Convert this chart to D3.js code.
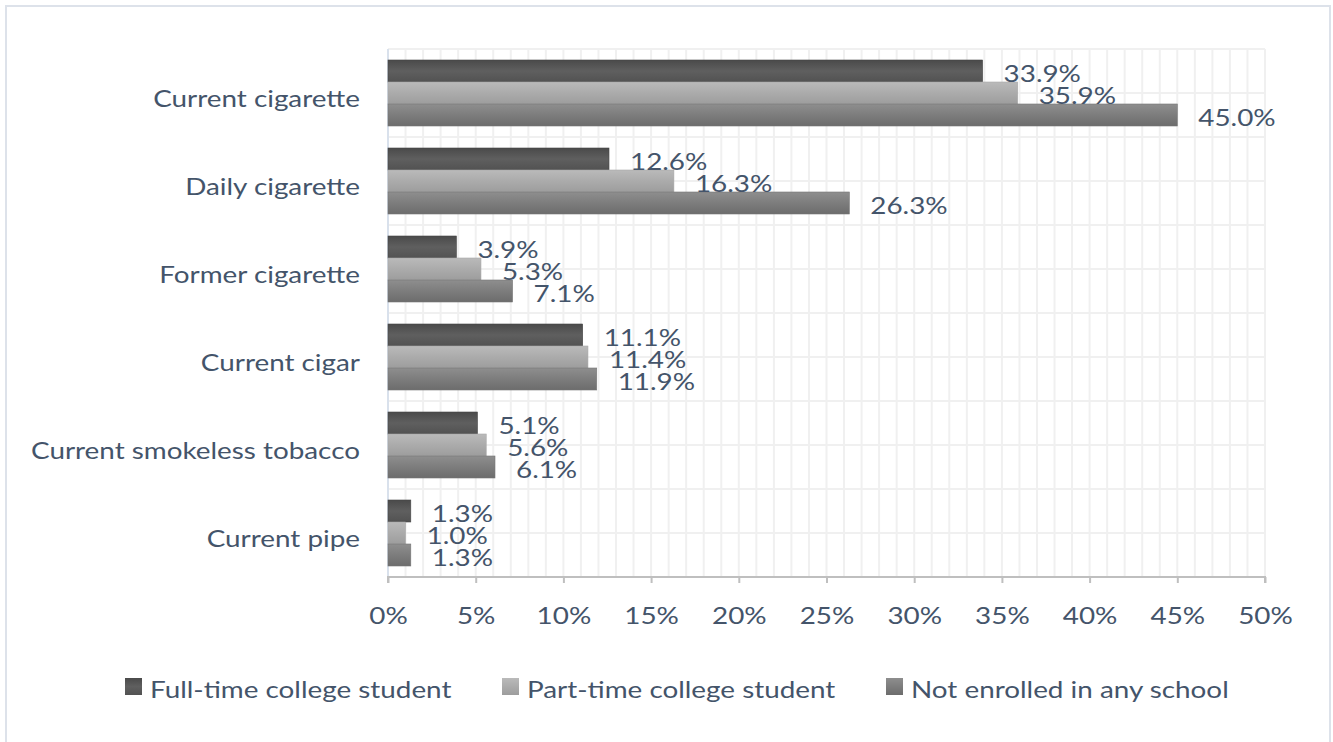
<!DOCTYPE html>
<html>
<head>
<meta charset="utf-8">
<script src="https://cdn.jsdelivr.net/npm/d3@7"></script>
<style>
  html, body { margin: 0; padding: 0; background: #fff; }
  svg { display: block; }
</style>
</head>
<body>
<script>
const categories = ["Current cigarette", "Daily cigarette", "Former cigarette", "Current cigar", "Current smokeless tobacco", "Current pipe"];
const seriesNames = ["Full-time college student", "Part-time college student", "Not enrolled in any school"];
const fullTime = [33.9, 12.6, 3.9, 11.1, 5.1, 1.3];
const partTime = [35.9, 16.3, 5.3, 11.4, 5.6, 1.0];
const notEnrolled = [45.0, 26.3, 7.1, 11.9, 6.1, 1.3];
const xTicks = [0, 5, 10, 15, 20, 25, 30, 35, 40, 45, 50];

const seriesValues = [fullTime, partTime, notEnrolled];
const W = 1333, H = 742;
const margin = { left: 388, right: 68, top: 49, bottom: 165 };
const textColor = "#44546a";
const font = "Lato, 'Open Sans', sans-serif";
const fs = 24;
const sx = 1.16; // horizontal stretch of the original's text

const svg = d3.select("body").append("svg").attr("width", W).attr("height", H);

// gradients
const defs = svg.append("defs");
const gradStops = [
  [["0%", "#4a4a4a"], ["50%", "#5f5f5f"], ["100%", "#525252"]],
  [["0%", "#bababa"], ["50%", "#ababab"], ["100%", "#9d9d9d"]],
  [["0%", "#8e8e8e"], ["50%", "#7d7d7d"], ["100%", "#6c6c6c"]]
];
gradStops.forEach((stops, i) => {
  const g = defs.append("linearGradient").attr("id", "g" + i)
    .attr("x1", 0).attr("y1", 0).attr("x2", 0).attr("y2", 1);
  stops.forEach(s => g.append("stop").attr("offset", s[0]).attr("stop-color", s[1]));
});

// outer border
svg.append("rect").attr("x", 6).attr("y", 6).attr("width", W - 9).attr("height", H)
  .attr("fill", "#fff").attr("stroke", "#dde2ea").attr("stroke-width", 2);

const x = d3.scaleLinear().domain([0, 50]).range([margin.left, W - margin.right]);
const y0 = d3.scaleBand().domain(categories).range([margin.top, H - margin.bottom]).paddingInner(0.25).paddingOuter(0.125);
const y1 = d3.scaleBand().domain(d3.range(3)).range([0, y0.bandwidth()]);
const plotTop = margin.top, plotBottom = H - margin.bottom;

// vertical gridlines every 1%
const grid = svg.append("g");
grid.selectAll("line.v").data(d3.range(1, 51)).enter().append("line")
  .attr("x1", d => x(d)).attr("x2", d => x(d))
  .attr("y1", plotTop).attr("y2", plotBottom)
  .attr("stroke", "#f0f0f0").attr("stroke-width", 2);
// horizontal gridlines every half category
const step = (plotBottom - plotTop) / (categories.length * 2);
grid.selectAll("line.h").data(d3.range(0, categories.length * 2)).enter().append("line")
  .attr("x1", x(0)).attr("x2", x(50))
  .attr("y1", d => plotTop + d * step).attr("y2", d => plotTop + d * step)
  .attr("stroke", "#f0f0f0").attr("stroke-width", 2);

// left axis line
svg.append("line").attr("x1", x(0)).attr("x2", x(0)).attr("y1", plotTop).attr("y2", plotBottom)
  .attr("stroke", "#d9e1ec").attr("stroke-width", 2);

// bars
const groups = svg.append("g").selectAll("g").data(categories).enter().append("g")
  .attr("transform", d => `translate(0,${y0(d)})`);
groups.selectAll("rect").data((d, ci) => seriesValues.map((s, si) => ({ si, v: s[ci] })))
  .enter().append("rect")
  .attr("x", x(0))
  .attr("y", d => y1(d.si))
  .attr("width", d => x(d.v) - x(0))
  .attr("height", y1.bandwidth())
  .attr("fill", d => `url(#g${d.si})`)
  .attr("stroke", d => ["#474747", "#a8a8a8", "#757575"][d.si]).attr("stroke-width", 0.6);

// value labels
groups.selectAll("text").data((d, ci) => seriesValues.map((s, si) => ({ si, v: s[ci] })))
  .enter().append("text")
  .attr("transform", d => `translate(${x(d.v) + 21},${y1(d.si) + y1.bandwidth() / 2 + 2}) scale(${sx},1)`)
  .attr("dy", "0.36em")
  .attr("fill", textColor).attr("font-family", font).attr("font-size", fs)
  .text(d => d.v.toFixed(1) + "%");

// category labels
svg.append("g").selectAll("text").data(categories).enter().append("text")
  .attr("transform", d => `translate(360,${y0(d) + y0.bandwidth() / 2 + 5}) scale(${sx},1)`)
  .attr("dy", "0.36em").attr("text-anchor", "end")
  .attr("fill", textColor).attr("font-family", font).attr("font-size", fs)
  .text(d => d);

// x axis
const xAxis = svg.append("g").attr("transform", `translate(0,${plotBottom})`)
  .call(d3.axisBottom(x).tickValues(xTicks).tickFormat(d => d + "%").tickSize(6).tickPadding(24));
xAxis.select(".domain").attr("stroke", "#bfbfbf").attr("stroke-width", 2).attr("d", `M${x(0)},6V0H${x(50)}V6`);
xAxis.selectAll(".tick line").attr("stroke", "#bfbfbf").attr("stroke-width", 2);
xAxis.selectAll(".tick text").attr("fill", textColor).attr("font-family", font).attr("font-size", fs)
  .attr("transform", `scale(${sx},1)`);

// legend
const legendX = [125, 502, 886];
const legend = svg.append("g").selectAll("g").data(seriesNames).enter().append("g")
  .attr("transform", (d, i) => `translate(${legendX[i]},678)`);
legend.append("rect").attr("width", 17).attr("height", 17).attr("fill", (d, i) => `url(#g${i})`);
legend.append("text").attr("transform", `translate(25,11) scale(${sx},1)`).attr("dy", "0.36em")
  .attr("fill", textColor).attr("font-family", font).attr("font-size", fs)
  .text(d => d);
</script>
</body>
</html>
